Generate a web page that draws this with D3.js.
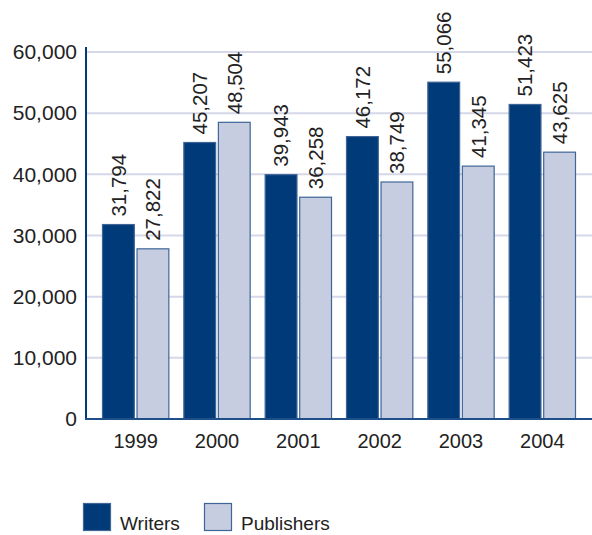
<!DOCTYPE html>
<html>
<head>
<meta charset="utf-8">
<script src="https://cdn.jsdelivr.net/npm/d3@7"></script>
<style>
  body { margin: 0; background: #fff; }
  svg text { font-family: "Liberation Sans", Arial, sans-serif; fill: #222; }
</style>
</head>
<body>
<div id="chart"></div>
<script>
// Datos
var years = ["1999", "2000", "2001", "2002", "2003", "2004"];
var writers = [31794, 45207, 39943, 46172, 55066, 51423];
var publishers = [27822, 48504, 36258, 38749, 41345, 43625];
var yTicks = [0, 10000, 20000, 30000, 40000, 50000, 60000];

var seriesNames = ["Writers", "Publishers"];
var seriesValues = [writers, publishers];
var fills = ["#003a78", "#c6cde1"];
var strokes = ["#3f6597", "#3f6597"];

var width = 592;
var height = 535;

var svg = d3.select("#chart")
  .append("svg")
  .attr("width", width)
  .attr("height", height);

// Escalas
var yScale = d3.scaleLinear()
  .domain([0, 60000])
  .range([419, 52]);

var xScale = d3.scaleBand()
  .domain(years)
  .range([102, 576])
  .paddingInner(0.172)
  .paddingOuter(0);

var xSub = d3.scaleBand()
  .domain(seriesNames)
  .range([0, xScale.bandwidth()])
  .paddingInner(0.05);

// Lineas de la grilla
svg.append("g")
  .selectAll("line")
  .data(yTicks.slice(1))
  .enter()
  .append("line")
  .attr("x1", 87)
  .attr("x2", 592)
  .attr("y1", function(d) { return yScale(d); })
  .attr("y2", function(d) { return yScale(d); })
  .attr("stroke", "#d5d8e8")
  .attr("stroke-width", 2);

// Eje Y
var yAxis = d3.axisLeft(yScale)
  .tickValues(yTicks)
  .tickSize(0)
  .tickPadding(9)
  .tickFormat(d3.format(","));

var yG = svg.append("g")
  .attr("transform", "translate(86,0)")
  .call(yAxis);
yG.select(".domain").remove();
yG.selectAll("text")
  .attr("font-size", 21)
  .attr("fill", "#222");

// Barras
var groups = svg.append("g")
  .selectAll("g")
  .data(years)
  .enter()
  .append("g")
  .attr("transform", function(d) { return "translate(" + xScale(d) + ",0)"; });

seriesNames.forEach(function(name, s) {
  groups.append("rect")
    .attr("x", xSub(name) + 0.5)
    .attr("y", function(d, i) { return yScale(seriesValues[s][i]); })
    .attr("width", xSub.bandwidth() - 1)
    .attr("height", function(d, i) { return yScale(0) - yScale(seriesValues[s][i]); })
    .attr("fill", fills[s])
    .attr("stroke", strokes[s])
    .attr("stroke-width", 1.2);

  // etiquetas de valor, rotadas
  groups.append("text")
    .attr("transform", function(d, i) {
      var cx = xSub(name) + xSub.bandwidth() / 2;
      var cy = yScale(seriesValues[s][i]) - 8;
      return "translate(" + cx + "," + cy + ")rotate(-90)";
    })
    .attr("dy", "0.36em")
    .attr("font-size", 20.5)
    .text(function(d, i) { return d3.format(",")(seriesValues[s][i]); });
});

// Ejes (lineas)
svg.append("line")
  .attr("x1", 86).attr("x2", 86)
  .attr("y1", 47).attr("y2", 420)
  .attr("stroke", "#003a78")
  .attr("stroke-width", 2);
svg.append("line")
  .attr("x1", 85).attr("x2", 592)
  .attr("y1", 419).attr("y2", 419)
  .attr("stroke", "#1f4f88")
  .attr("stroke-width", 2);

// Eje X
var xAxis = d3.axisBottom(xScale).tickSize(0).tickPadding(14);
var xG = svg.append("g")
  .attr("transform", "translate(0,420)")
  .call(xAxis);
xG.select(".domain").remove();
xG.selectAll("text")
  .attr("font-size", 20)
  .attr("fill", "#222");

// Leyenda
var legendX = [83, 204];
var legend = svg.append("g")
  .selectAll("g")
  .data(seriesNames)
  .enter()
  .append("g")
  .attr("transform", function(d, i) { return "translate(" + legendX[i] + ",503)"; });

legend.append("rect")
  .attr("x", 0.5).attr("y", 0.5)
  .attr("width", 27).attr("height", 27)
  .attr("fill", function(d, i) { return fills[i]; })
  .attr("stroke", function(d, i) { return strokes[i]; })
  .attr("stroke-width", 1.2);

legend.append("text")
  .attr("x", 37)
  .attr("y", 27)
  .attr("font-size", 19)
  .text(function(d) { return d; });
</script>
</body>
</html>
